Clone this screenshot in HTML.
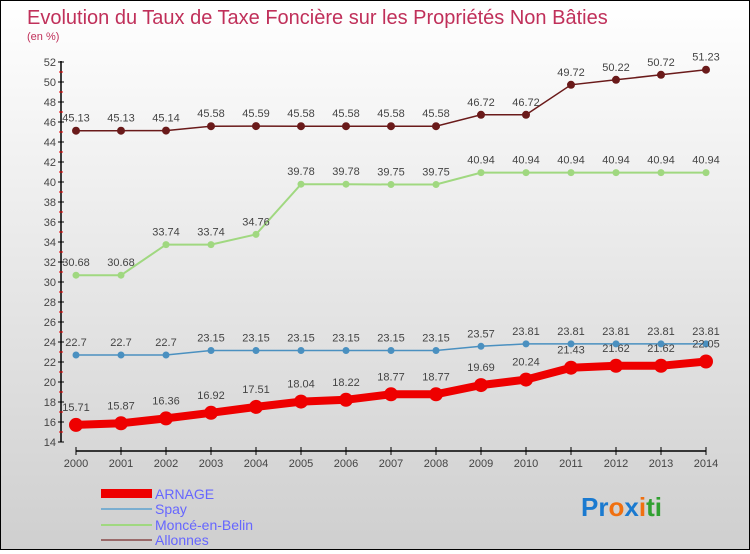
<!DOCTYPE html>
<html><head><meta charset="utf-8"><style>
body{margin:0;width:750px;height:550px;overflow:hidden;font-family:"Liberation Sans",sans-serif}
#wrap{position:relative;width:748px;height:548px;border:1px solid #000;background:linear-gradient(#ffffff,#cfcfcf)}
</style></head><body>
<div id="wrap">
<svg id="chart" width="748" height="548">
<text x="26" y="23" font-size="20" fill="#c0305a">Evolution du Taux de Taxe Foncière sur les Propriétés Non Bâties</text>
<text x="26" y="39" font-size="11" fill="#c0305a">(en %)</text>
<g id="axes"></g><g id="series"></g>
<g>
<rect x="100" y="488" width="51" height="9" fill="#e00"/>
<text x="154" y="498" font-size="14" fill="#66f">ARNAGE</text>
<rect x="100" y="507" width="51" height="2" fill="#7aaed0"/>
<text x="154" y="513" font-size="14" fill="#66f">Spay</text>
<rect x="100" y="523" width="51" height="2" fill="#a0d880"/>
<text x="154" y="529" font-size="14" fill="#66f">Moncé-en-Belin</text>
<rect x="100" y="538" width="51" height="2" fill="#9a6a6a"/>
<text x="154" y="544" font-size="14" fill="#66f">Allonnes</text>
</g>
<text x="580" y="515" font-size="26" font-weight="bold"><tspan fill="#1a7ad0">Pr</tspan><tspan fill="#f07010">o</tspan><tspan fill="#1a7ad0">x</tspan><tspan fill="#f07010">i</tspan><tspan fill="#30a030">ti</tspan></text>
</svg></div>
<script>
const years=[2000,2001,2002,2003,2004,2005,2006,2007,2008,2009,2010,2011,2012,2013,2014];
const arnage=[15.71,15.87,16.36,16.92,17.51,18.04,18.22,18.77,18.77,19.69,20.24,21.43,21.62,21.62,22.05];
const spay=[22.7,22.7,22.7,23.15,23.15,23.15,23.15,23.15,23.15,23.57,23.81,23.81,23.81,23.81,23.81];
const monce=[30.68,30.68,33.74,33.74,34.76,39.78,39.78,39.75,39.75,40.94,40.94,40.94,40.94,40.94,40.94];
const allonnes=[45.13,45.13,45.14,45.58,45.59,45.58,45.58,45.58,45.58,46.72,46.72,49.72,50.22,50.72,51.23];
const yTicks=[14,16,18,20,22,24,26,28,30,32,34,36,38,40,42,44,46,48,50,52];
const NS="http://www.w3.org/2000/svg";
const x=i=>75+i*45, y=v=>441-(v-14)*10;
function mk(t,a,p){const e=document.createElementNS(NS,t);for(const k in a)e.setAttribute(k,a[k]);p.appendChild(e);return e;}
const ax=document.getElementById('axes');
const yl=mk('line',{x1:60,y1:60,x2:60,y2:441,stroke:'#000','stroke-width':1.5},ax);


yTicks.forEach((t,k)=>{
 mk('line',{x1:57,y1:y(t),x2:63,y2:y(t),stroke:'#000'},ax);
 if(k<yTicks.length-1) mk('line',{x1:58,y1:y(t+1),x2:62,y2:y(t+1),stroke:'#e00'},ax);
 const tx=mk('text',{x:55,y:y(t)+4,'font-size':11,'text-anchor':'end',fill:'#444'},ax);tx.textContent=t;
 
 
});
const xl=mk('line',{x1:75,y1:450,x2:705,y2:450,stroke:'#000','stroke-width':1.5},ax);


years.forEach((yr,i)=>{
 mk('line',{x1:x(i),y1:446,x2:x(i),y2:454,stroke:'#000'},ax);
 const tx=mk('text',{x:x(i),y:466,'font-size':11,'text-anchor':'middle',fill:'#444'},ax);tx.textContent=yr;
 
 
});
const sg=document.getElementById('series');
function series(data,color,w,r,name){
 const g=mk('g',{},sg);
 
 
 mk('polyline',{points:data.map((v,i)=>x(i)+','+y(v)).join(' '),fill:'none',stroke:color,'stroke-width':w},g);
 data.forEach((v,i)=>{
  const c=mk('circle',{cx:x(i),cy:y(v),r:r,fill:color},g);
  
  
  const t=mk('text',{x:x(i),y:y(v)-(name=='arnage'?14:9),'font-size':11,'text-anchor':'middle',fill:'#444'},g);t.textContent=v;
  
  
 });
}
series(allonnes,'#6a1a1a',1.5,4,'allonnes');
series(monce,'#a0d880',2,3.5,'monce');
series(spay,'#4a90c0',1.5,3.5,'spay');
series(arnage,'#e00',8,7,'arnage');
</script>
</body></html>
